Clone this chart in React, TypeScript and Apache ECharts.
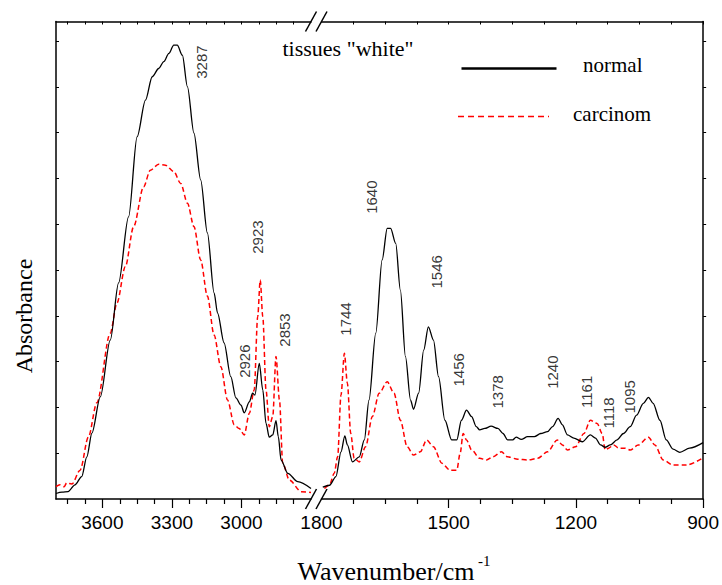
import React, { useEffect, useRef } from "react";
import * as echarts from "echarts";

// ---- Data (wavenumber in cm-1, absorbance in arbitrary units) ----
const normalHighWn = [3800, 3774, 3748, 3718, 3689, 3667, 3645, 3609, 3566, 3530, 3487, 3450, 3414, 3385, 3357, 3335, 3313, 3292, 3277, 3255, 3233, 3205, 3176, 3147, 3118, 3103, 3075, 3046, 3024, 3002, 2988, 2966, 2952, 2942, 2923, 2908, 2894, 2880, 2865, 2851, 2841, 2829, 2800, 2757, 2700];
const normalHighAbs = [0.012, 0.015, 0.016, 0.031, 0.049, 0.092, 0.144, 0.223, 0.347, 0.472, 0.616, 0.791, 0.871, 0.922, 0.94, 0.955, 0.973, 0.991, 0.991, 0.969, 0.9, 0.799, 0.697, 0.581, 0.45, 0.406, 0.341, 0.267, 0.221, 0.205, 0.188, 0.212, 0.231, 0.227, 0.296, 0.238, 0.165, 0.135, 0.14, 0.171, 0.136, 0.085, 0.056, 0.038, 0.023];

const carcinomHighWn = [3800, 3783, 3765, 3754, 3731, 3696, 3660, 3624, 3566, 3537, 3501, 3465, 3422, 3393, 3357, 3328, 3292, 3262, 3233, 3205, 3176, 3147, 3118, 3089, 3060, 3031, 3010, 2988, 2966, 2945, 2930, 2919, 2908, 2894, 2880, 2865, 2851, 2836, 2822, 2793, 2742, 2700];
const carcinomHighAbs = [0.027, 0.031, 0.027, 0.035, 0.033, 0.063, 0.136, 0.21, 0.362, 0.428, 0.507, 0.595, 0.682, 0.718, 0.731, 0.729, 0.715, 0.689, 0.646, 0.595, 0.522, 0.443, 0.358, 0.289, 0.216, 0.162, 0.154, 0.14, 0.187, 0.238, 0.398, 0.478, 0.398, 0.238, 0.158, 0.18, 0.311, 0.216, 0.078, 0.041, 0.016, 0.014];

const normalLowWn = [1797, 1781, 1766, 1754, 1745, 1739, 1727, 1711, 1699, 1688, 1672, 1657, 1645, 1637, 1625, 1614, 1602, 1590, 1583, 1571, 1559, 1548, 1536, 1524, 1509, 1493, 1481, 1470, 1458, 1446, 1435, 1427, 1415, 1400, 1384, 1372, 1361, 1349, 1341, 1329, 1314, 1298, 1283, 1267, 1255, 1242, 1232, 1220, 1205, 1185, 1166, 1154, 1142, 1131, 1119, 1103, 1088, 1072, 1057, 1041, 1029, 1018, 1002, 987, 971, 955, 932, 900];
const normalLowAbs = [0.026, 0.03, 0.049, 0.103, 0.138, 0.118, 0.081, 0.092, 0.129, 0.216, 0.362, 0.522, 0.591, 0.591, 0.558, 0.456, 0.311, 0.216, 0.196, 0.231, 0.325, 0.376, 0.347, 0.267, 0.172, 0.129, 0.129, 0.172, 0.194, 0.18, 0.158, 0.151, 0.154, 0.159, 0.154, 0.143, 0.129, 0.129, 0.135, 0.13, 0.136, 0.136, 0.143, 0.147, 0.158, 0.176, 0.162, 0.14, 0.133, 0.125, 0.14, 0.133, 0.118, 0.113, 0.118, 0.129, 0.143, 0.158, 0.183, 0.209, 0.222, 0.209, 0.172, 0.129, 0.109, 0.102, 0.111, 0.123];

const carcinomLowWn = [1793, 1781, 1770, 1762, 1754, 1746, 1739, 1731, 1723, 1711, 1696, 1680, 1664, 1645, 1629, 1614, 1598, 1583, 1567, 1552, 1536, 1516, 1497, 1481, 1473, 1466, 1458, 1446, 1427, 1411, 1396, 1376, 1361, 1337, 1314, 1290, 1267, 1244, 1232, 1220, 1201, 1181, 1166, 1150, 1138, 1131, 1123, 1111, 1099, 1084, 1072, 1053, 1029, 1014, 994, 971, 940, 900];
const carcinomLowAbs = [0.023, 0.031, 0.056, 0.092, 0.227, 0.318, 0.253, 0.143, 0.089, 0.081, 0.114, 0.18, 0.231, 0.256, 0.231, 0.172, 0.114, 0.096, 0.103, 0.129, 0.114, 0.078, 0.063, 0.063, 0.1, 0.143, 0.129, 0.107, 0.089, 0.085, 0.092, 0.103, 0.092, 0.087, 0.085, 0.089, 0.103, 0.129, 0.118, 0.107, 0.114, 0.143, 0.172, 0.165, 0.143, 0.107, 0.111, 0.118, 0.111, 0.111, 0.107, 0.118, 0.135, 0.118, 0.085, 0.074, 0.074, 0.09];

// Peak annotations: text, and anchor in data units (wavenumber, absorbance)
const peakNames = ["3287", "2926", "2923", "2853", "1744", "1640", "1546", "1456", "1378", "1240", "1161", "1118", "1095"];
const peakLabelWn = [3171, 2985, 2929, 2816, 1744, 1681, 1529, 1477, 1386, 1255, 1176, 1124, 1073];
const peakLabelAbs = [0.954, 0.301, 0.572, 0.369, 0.393, 0.659, 0.496, 0.282, 0.234, 0.277, 0.234, 0.188, 0.223];

// Legend entries
const legendNames = ["normal", "carcinom"];

// Axis ticks
const highMajorTicks = [3600, 3300, 3000];
const highMinorTicks = [3750, 3675, 3525, 3450, 3375, 3225, 3150, 3075, 2925, 2850, 2775];
const lowLabelTicks = [1800, 1500, 1200, 900];
const lowMajorTicks = [1500, 1200, 900];
const lowMinorTicks = [1725, 1650, 1575, 1425, 1350, 1275, 1125, 1050, 975];
const yTicks = [0.1, 0.2, 0.3, 0.4, 0.5, 0.6, 0.7, 0.8, 0.9, 1.0];

const zip = (a: number[], b: number[]) => a.map((v, i) => [v, b[i]]);

export default function App() {
  const ref = useRef<HTMLDivElement>(null);
  useEffect(() => {
    const chart = echarts.init(ref.current!, null, { renderer: "svg" });
    const axisLineStyle = { color: "#000", width: 1.5 };
    const sans = "Liberation Sans";
    const serif = "Liberation Serif";
    const yMax = 1.0426;
    const gridTop = 21.5;
    const gridBottom = 86;
    const axisYBottom = 585 - gridBottom;
    const red = "#ff0000";
    const dash = [5, 3];

    const baseX = (gridIndex: number, min: number, max: number) => ({
      type: "value",
      gridIndex,
      min,
      max,
      inverse: true,
      splitLine: { show: false },
    });

    const peakData = (high: boolean) =>
      peakNames
        .map((n, i) => ({ name: n, value: [peakLabelWn[i], peakLabelAbs[i]] }))
        .filter((d) => (high ? d.value[0] > 2000 : d.value[0] <= 2000));

    const peakLabel = {
      show: true,
      position: "inside",
      rotate: 90,
      align: "center",
      verticalAlign: "middle",
      formatter: "{b}",
      color: "#000",
      fontFamily: sans,
      fontSize: 15,
    };

    const tickLabel = (values: number[]) => ({
      show: true,
      customValues: values,
      margin: 14,
      color: "#000",
      fontFamily: sans,
      fontSize: 19,
      formatter: (v: number) => String(v),
    });

    const allHighTicks = [...highMinorTicks, ...highMajorTicks].sort((a, b) => b - a);
    const allLowTicks = [...lowMinorTicks, ...lowMajorTicks].sort((a, b) => b - a);

    const slash = (cx: number, cy: number) => ({
      type: "line",
      shape: { x1: cx - 5.5, y1: cy + 10, x2: cx + 5.5, y2: cy - 10 },
      style: { stroke: "#000", lineWidth: 1.5 },
      z: 100,
    });

    const lineSeries = (name: string, xi: number, yi: number, wn: number[], ab: number[], isRed: boolean) => ({
      name,
      type: "line",
      xAxisIndex: xi,
      yAxisIndex: yi,
      data: zip(wn, ab),
      symbol: "none",
      smooth: 0.3,
      smoothMonotone: "x",
      lineStyle: isRed ? { color: red, width: 1.5, type: dash } : { color: "#000", width: 1.3 },
      itemStyle: { color: isRed ? red : "#000" },
      z: isRed ? 2 : 3,
    });

    const option: any = {
      animation: false,
      backgroundColor: "#fff",
      grid: [
        { left: 56, right: 722 - 311, top: gridTop, bottom: gridBottom },
        { left: 321.5, right: 15, top: gridTop, bottom: gridBottom },
      ],
      xAxis: [
        {
          ...baseX(0, 2700, 3800),
          position: "bottom",
          axisLine: { show: true, lineStyle: axisLineStyle },
          axisTick: { show: true, inside: false, length: 9, customValues: highMajorTicks, lineStyle: { color: "#000", width: 1.2 } },
          axisLabel: tickLabel(highMajorTicks),
        },
        {
          ...baseX(0, 2700, 3800),
          position: "bottom",
          axisLine: { show: false },
          axisTick: { show: true, inside: false, length: 5, customValues: highMinorTicks, lineStyle: { color: "#000", width: 1.2 } },
          axisLabel: { show: false },
        },
        {
          ...baseX(0, 2700, 3800),
          position: "top",
          axisLine: { show: true, lineStyle: axisLineStyle },
          axisTick: { show: true, inside: true, length: 3, customValues: allHighTicks, lineStyle: { color: "#000", width: 1 } },
          axisLabel: { show: false },
        },
        {
          ...baseX(1, 900, 1800),
          position: "bottom",
          axisLine: { show: true, lineStyle: axisLineStyle },
          axisTick: { show: true, inside: false, length: 9, customValues: lowMajorTicks, lineStyle: { color: "#000", width: 1.2 } },
          axisLabel: tickLabel(lowLabelTicks),
        },
        {
          ...baseX(1, 900, 1800),
          position: "bottom",
          axisLine: { show: false },
          axisTick: { show: true, inside: false, length: 5, customValues: lowMinorTicks, lineStyle: { color: "#000", width: 1.2 } },
          axisLabel: { show: false },
        },
        {
          ...baseX(1, 900, 1800),
          position: "top",
          axisLine: { show: true, lineStyle: axisLineStyle },
          axisTick: { show: true, inside: true, length: 3, customValues: allLowTicks, lineStyle: { color: "#000", width: 1 } },
          axisLabel: { show: false },
        },
      ],
      yAxis: [
        {
          type: "value",
          gridIndex: 0,
          position: "left",
          min: 0,
          max: yMax,
          splitLine: { show: false },
          axisLine: { show: true, lineStyle: axisLineStyle },
          axisTick: { show: true, inside: true, length: 3, customValues: yTicks, lineStyle: { color: "#000", width: 1 } },
          axisLabel: { show: false },
        },
        {
          type: "value",
          gridIndex: 1,
          position: "right",
          min: 0,
          max: yMax,
          splitLine: { show: false },
          axisLine: { show: true, lineStyle: axisLineStyle },
          axisTick: { show: true, inside: false, length: 3, customValues: yTicks, lineStyle: { color: "#000", width: 1 } },
          axisLabel: { show: false },
        },
      ],
      series: [
        lineSeries(legendNames[0], 0, 0, normalHighWn, normalHighAbs, false),
        lineSeries(legendNames[0], 3, 1, normalLowWn, normalLowAbs, false),
        lineSeries(legendNames[1], 0, 0, carcinomHighWn, carcinomHighAbs, true),
        lineSeries(legendNames[1], 3, 1, carcinomLowWn, carcinomLowAbs, true),
        {
          name: "peaksHigh",
          type: "scatter",
          xAxisIndex: 0,
          yAxisIndex: 0,
          symbolSize: 0,
          silent: true,
          data: peakData(true),
          label: peakLabel,
        },
        {
          name: "peaksLow",
          type: "scatter",
          xAxisIndex: 3,
          yAxisIndex: 1,
          symbolSize: 0,
          silent: true,
          data: peakData(false),
          label: peakLabel,
        },
      ],
      graphic: [
        slash(311, gridTop),
        slash(321.5, gridTop),
        slash(311, axisYBottom),
        slash(321.5, axisYBottom),
        // legend
        {
          type: "line",
          shape: { x1: 461.5, y1: 68.5, x2: 556.5, y2: 68.5 },
          style: { stroke: "#000", lineWidth: 2.5 },
        },
        {
          type: "text",
          x: 583,
          y: 65,
          style: { text: legendNames[0], fill: "#000", font: `21px "${serif}"`, align: "left", verticalAlign: "middle" },
        },
        {
          type: "line",
          shape: { x1: 458, y1: 116.5, x2: 549, y2: 116.5 },
          style: { stroke: red, lineWidth: 1.5, lineDash: [6, 4] },
        },
        {
          type: "text",
          x: 573,
          y: 114,
          style: { text: legendNames[1], fill: "#000", font: `21px "${serif}"`, align: "left", verticalAlign: "middle" },
        },
        // annotation title
        {
          type: "text",
          x: 348,
          y: 48,
          style: { text: 'tissues "white"', fill: "#000", font: `22px "${serif}"`, align: "center", verticalAlign: "middle" },
        },
        // axis titles
        {
          type: "text",
          x: 386,
          y: 571,
          style: { text: "Wavenumber/cm", fill: "#000", font: `26px "${serif}"`, align: "center", verticalAlign: "middle" },
        },
        {
          type: "text",
          x: 478,
          y: 561,
          style: { text: "-1", fill: "#000", font: `15px "${serif}"`, align: "left", verticalAlign: "middle" },
        },
        {
          type: "text",
          x: 24,
          y: 316,
          rotation: Math.PI / 2,
          style: { text: "Absorbance", fill: "#000", font: `24px "${serif}"`, align: "center", verticalAlign: "middle" },
        },
      ],
    };
    chart.setOption(option);
    return () => chart.dispose();
  }, []);
  return (
    <div
      ref={ref}
      style={{ position: "absolute", left: 0, top: 0, width: 722, height: 585, background: "#fff" }}
    />
  );
}
